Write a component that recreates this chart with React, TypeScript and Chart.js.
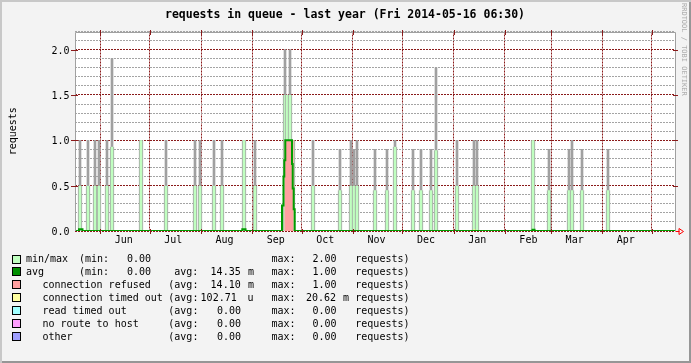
import React, { useEffect, useRef } from 'react';
import { Chart, registerables } from 'chart.js';

Chart.register(...registerables);

// ---------- data ----------
const TITLE = 'requests in queue - last year (Fri 2014-05-16 06:30)';
const Y_TITLE = 'requests';
const WATERMARK = 'RRDTOOL / TOBI OETIKER';

// x axis: days since the start of the graph window
const X_MAX_DAYS = 363.3;
const MONTH_START_DAYS = [15.3, 45.3, 76.3, 107.3, 137.3, 168.3, 198.3, 229.3, 260.3, 288.3, 319.3, 349.3];
const MONTH_LABELS = ['Jun', 'Jul', 'Aug', 'Sep', 'Oct', 'Nov', 'Dec', 'Jan', 'Feb', 'Mar', 'Apr', ''];

const Y_MAX = 2.2;
const Y_MINOR_STEP = 0.1;
const Y_MAJOR_VALUES = [0, 0.5, 1.0, 1.5, 2.0];
const Y_MAJOR_LABELS = ['0.0', '0.5', '1.0', '1.5', '2.0'];

// spikes: day, max value, top of the light green min/max band
const SPIKE_DAYS = [
  3.33, 8.17, 11.99, 14.65, 19.38, 22.4, 40.08, 55.1, 72.36, 75.99, 83.98, 88.71, 102.45, 109.11,
  127.04, 128.55, 130.06, 131.7, 144.29, 160.34, 167.0, 168.82, 170.75, 181.53, 188.62, 193.76,
  204.48, 209.39, 215.38, 218.59, 231.49, 241.78, 243.23, 277.51, 287.19, 298.94, 301.12, 306.81, 322.92,
];
const SPIKE_MAX = [
  1.0, 1.0, 1.0, 1.0, 1.0, 1.9, 1.0, 1.0, 1.0, 1.0, 1.0, 1.0, 1.0, 1.0,
  2.0, 1.5, 2.0, 1.0, 1.0, 0.9, 1.0, 0.9, 1.0, 0.9, 0.9, 1.0,
  0.9, 0.9, 0.9, 1.8, 1.0, 1.0, 1.0, 1.0, 0.9, 0.9, 1.0, 0.9, 0.9,
];
const SPIKE_BAND = [
  0.5, 0.5, 0.5, 0.5, 0.5, 0.93, 1.0, 0.5, 0.5, 0.5, 0.5, 0.5, 1.0, 0.5,
  1.5, 1.5, 1.5, 1.0, 0.5, 0.45, 0.5, 0.5, 0.5, 0.45, 0.45, 0.93,
  0.45, 0.45, 0.45, 0.89, 0.5, 0.5, 0.5, 1.0, 0.45, 0.45, 0.45, 0.45, 0.45,
];

// avg (step line)
const AVG_DAYS = [0, 2.42, 4.54, 101.3, 103.24, 125.34, 126.25, 126.73, 127.34, 131.4, 131.82, 132.42, 133.03, 277.02, 278.24, 363.3];
const AVG_VALUES = [0, 0.02, 0, 0.02, 0, 0.28, 0.6, 0.78, 1.0, 0.74, 0.47, 0.24, 0, 0.015, 0, 0];

// connection refused / timed out (step areas)
const REFUSED_DAYS = [126.73, 132.49];
const REFUSED_VALUES = [1.0, 0];
const TIMEDOUT_DAYS = [241.18, 242.51];
const TIMEDOUT_VALUES = [0.0206, 0];

// legend
const LEGEND_NAMES = ['min/max', 'avg', 'connection refused', 'connection timed out', 'read timed out', 'no route to host', 'other'];
const LEGEND_COLORS = ['#c0ffc0', '#009000', '#ffa0a0', '#ffffa0', '#a0ffff', '#ffa0ff', '#a0a0ff'];
const LEGEND_MIN = ['0.00', '0.00', null, null, null, null, null];
const LEGEND_AVG = [null, '14.35', '14.10', '102.71', '0.00', '0.00', '0.00'];
const LEGEND_AVG_UNIT = [null, 'm', 'm', 'u', '', '', ''];
const LEGEND_MAX = ['2.00', '1.00', '1.00', '20.62', '0.00', '0.00', '0.00'];
const LEGEND_MAX_UNIT = ['', '', '', 'm', '', '', ''];
const LEGEND_UNIT = 'requests)';

// ---------- styles ----------
const FONT = "'DejaVu Sans Mono', monospace";
const GREY = '#a0a0a0';
const GRID = '#a4a4a4';
const MGRID = '#8a1a1a';
const LIGHT_GREEN = '#c0ffc0';
const DARK_GREEN = '#009c00';
const PINK = '#ffa0a0';
const YELLOW = '#ffff80';

const toXY = (xs: number[], ys: number[]) => xs.map((x, i) => ({ x, y: ys[i] }));
const isMajor = (v: number | undefined) =>
  v !== undefined && Y_MAJOR_VALUES.some((m) => Math.abs(m - v) < 1e-6);

const decorPlugin = {
  id: 'rrdDecor',
  beforeDraw(chart: any) {
    const { ctx, chartArea } = chart;
    const { left, top, right, bottom } = chartArea;
    ctx.save();
    ctx.fillStyle = '#ffffff';
    ctx.fillRect(Math.round(left), Math.round(top), Math.round(right - left), Math.round(bottom - top));
    ctx.restore();
  },
  beforeDatasetsDraw(chart: any) {
    // snap bar centres to whole pixels so the thin bars render crisply
    chart.data.datasets.forEach((ds: any, i: number) => {
      if (ds.type !== 'bar') return;
      chart.getDatasetMeta(i).data.forEach((el: any) => {
        el.x = Math.round(el.x);
      });
    });
  },
  afterDatasetsDraw(chart: any) {
    const { ctx, chartArea, scales } = chart;
    const L = Math.round(chartArea.left) + 0.5;
    const R = Math.round(chartArea.right) + 0.5;
    const T = Math.round(chartArea.top) + 0.5;
    const B = Math.round(chartArea.bottom);
    ctx.save();
    // frame
    ctx.strokeStyle = GREY;
    ctx.lineWidth = 1;
    ctx.beginPath();
    ctx.moveTo(L, B);
    ctx.lineTo(L, T);
    ctx.lineTo(R, T);
    ctx.lineTo(R, B);
    ctx.stroke();
    // major tick marks
    ctx.strokeStyle = MGRID;
    ctx.beginPath();
    MONTH_START_DAYS.forEach((d) => {
      const x = Math.round(scales.x.getPixelForValue(d)) + 0.5;
      ctx.moveTo(x, T - 2.5);
      ctx.lineTo(x, T + 2.5);
      ctx.moveTo(x, B - 2);
      ctx.lineTo(x, B + 3);
    });
    Y_MAJOR_VALUES.forEach((v) => {
      if (v === 0) return;
      const y = Math.round(scales.y.getPixelForValue(v)) + 0.5;
      ctx.moveTo(L - 4.5, y);
      ctx.lineTo(L + 2.5, y);
      ctx.moveTo(R - 2.5, y);
      ctx.lineTo(R + 2.5, y);
    });
    ctx.stroke();
    // arrow at the end of the x axis
    ctx.strokeStyle = '#ff0000';
    ctx.beginPath();
    ctx.moveTo(R, B + 0.5);
    ctx.lineTo(R + 4, B + 0.5);
    ctx.moveTo(R + 3.5, B - 2.5);
    ctx.lineTo(R + 8, B + 0.5);
    ctx.lineTo(R + 3.5, B + 3.5);
    ctx.closePath();
    ctx.stroke();
    ctx.restore();
  },
};

function RrdChart() {
  const ref = useRef<HTMLCanvasElement | null>(null);
  useEffect(() => {
    if (!ref.current) return;
    const chart = new Chart(ref.current, {
      type: 'bar',
      data: {
        datasets: [
          {
            type: 'bar',
            label: 'max',
            data: toXY(SPIKE_DAYS, SPIKE_MAX),
            backgroundColor: GREY,
            borderWidth: 0,
            barThickness: 2,
            grouped: false,
            order: 5,
          } as any,
          {
            type: 'bar',
            label: 'min/max',
            data: toXY(SPIKE_DAYS, SPIKE_BAND),
            backgroundColor: LIGHT_GREEN,
            borderColor: GREY,
            borderWidth: { left: 1, right: 1, top: 0, bottom: 0 },
            barThickness: 4,
            grouped: false,
            order: 4,
          } as any,
          {
            type: 'line',
            label: 'connection refused',
            data: toXY(REFUSED_DAYS, REFUSED_VALUES),
            stepped: true,
            fill: 'origin',
            backgroundColor: PINK,
            borderColor: 'rgba(0,0,0,0)',
            borderWidth: 0,
            pointRadius: 0,
            order: 3,
          } as any,
          {
            type: 'line',
            label: 'connection timed out',
            data: toXY(TIMEDOUT_DAYS, TIMEDOUT_VALUES),
            stepped: true,
            fill: 'origin',
            backgroundColor: YELLOW,
            borderColor: 'rgba(0,0,0,0)',
            borderWidth: 0,
            pointRadius: 0,
            order: 2,
          } as any,
          {
            type: 'line',
            label: 'avg',
            data: toXY(AVG_DAYS, AVG_VALUES),
            stepped: true,
            fill: false,
            borderColor: DARK_GREEN,
            borderWidth: 2,
            pointRadius: 0,
            order: 1,
          } as any,
        ],
      },
      options: {
        animation: false,
        responsive: false,
        devicePixelRatio: 1,
        events: [],
        layout: { padding: { left: 0, top: 31.5, right: 16, bottom: 100 } },
        plugins: { legend: { display: false }, tooltip: { enabled: false }, title: { display: false } },
        scales: {
          x: {
            type: 'linear',
            min: 0,
            max: X_MAX_DAYS,
            offset: false,
            afterBuildTicks: (axis: any) => {
              axis.ticks = MONTH_START_DAYS.map((v) => ({ value: v }));
            },
            afterFit: (axis: any) => {
              axis.height = 32;
            },
            grid: { color: MGRID, lineWidth: 1, drawTicks: false, offset: false },
            border: { display: false, dash: [2, 1] },
            ticks: {
              autoSkip: false,
              maxRotation: 0,
              minRotation: 0,
              padding: 3,
              labelOffset: 23.5,
              color: '#000',
              font: { family: FONT, size: 10 },
              callback: (_v: any, i: number) => MONTH_LABELS[i] ?? '',
            },
          },
          y: {
            type: 'linear',
            min: 0,
            max: Y_MAX,
            afterBuildTicks: (axis: any) => {
              const t: { value: number }[] = [];
              const n = Math.round(Y_MAX / Y_MINOR_STEP);
              for (let i = 0; i <= n; i++) t.push({ value: +(i * Y_MINOR_STEP).toFixed(1) });
              axis.ticks = t;
            },
            afterFit: (axis: any) => {
              axis.width = 75;
            },
            grid: {
              color: (c: any) => (isMajor(c.tick?.value) ? MGRID : GRID),
              lineWidth: 1,
              drawTicks: false,
            },
            border: { display: false, dash: [2, 1] },
            ticks: {
              autoSkip: false,
              padding: 5.5,
              labelOffset: 1.5,
              color: '#000',
              font: { family: FONT, size: 10 },
              callback: (v: any) => {
                const k = Y_MAJOR_VALUES.findIndex((m) => Math.abs(m - Number(v)) < 1e-6);
                return k >= 0 ? Y_MAJOR_LABELS[k] : '';
              },
            },
            title: {
              display: true,
              text: Y_TITLE,
              color: '#000',
              font: { family: FONT, size: 10 },
              padding: { top: 7, bottom: 0 },
            },
          },
        },
      } as any,
      plugins: [decorPlugin],
    });
    return () => chart.destroy();
  }, []);
  return (
    <canvas
      ref={ref}
      width={691}
      height={363}
      style={{ position: 'absolute', left: 0, top: 0, width: 691, height: 363 }}
    />
  );
}

const AVG_X = [null, 210.6, 210.6, 200.6, 216.9, 216.9, 216.9];
const MAX_X = [312.5, 312.5, 312.5, 305.9, 312.5, 312.5, 312.5];

function LegendRow({ i }: { i: number }) {
  const top = 252.3 + 12.97 * i;
  const segs: [string, number][] = [];
  segs.push([LEGEND_NAMES[i], i < 2 ? 26 : 42.4]);
  if (LEGEND_MIN[i] !== null) {
    segs.push(['(min:', 79]);
    segs.push([LEGEND_MIN[i] as string, 126.9]);
  }
  if (LEGEND_AVG[i] !== null) {
    segs.push([i === 1 ? 'avg:' : '(avg:', i === 1 ? 174.2 : 168.3]);
    segs.push([LEGEND_AVG[i] as string, AVG_X[i] as number]);
    if (LEGEND_AVG_UNIT[i]) segs.push([LEGEND_AVG_UNIT[i] as string, i === 3 ? 247.4 : 248]);
  }
  segs.push(['max:', 271.4]);
  segs.push([LEGEND_MAX[i], MAX_X[i]]);
  if (LEGEND_MAX_UNIT[i]) segs.push([LEGEND_MAX_UNIT[i], 343]);
  segs.push([LEGEND_UNIT, 355.3]);
  return (
    <>
      <div
        style={{
          position: 'absolute',
          left: 12,
          top: 254.5 + 12.97 * i,
          width: 7,
          height: 7,
          background: LEGEND_COLORS[i],
          border: '1px solid #000',
        }}
      />
      {segs.map(([t, x], k) => (
        <span
          key={k}
          style={{
            position: 'absolute',
            left: x,
            top,
            fontFamily: FONT,
            fontSize: 10,
            lineHeight: '13px',
            whiteSpace: 'pre',
            color: '#000',
          }}
        >
          {t}
        </span>
      ))}
    </>
  );
}

export default function App() {
  return (
    <div
      style={{
        position: 'absolute',
        left: 0,
        top: 0,
        width: 691,
        height: 363,
        background: '#f3f3f3',
        boxShadow: 'inset 2px 2px 0 #c8c8c8, inset -2px -2px 0 #969696',
        overflow: 'hidden',
      }}
    >
      <RrdChart />
      <div
        style={{
          position: 'absolute',
          left: 0,
          top: 7.3,
          width: 690,
          textAlign: 'center',
          fontFamily: FONT,
          fontSize: 11.5,
          fontWeight: 'bold',
          lineHeight: '14px',
          color: '#000',
          whiteSpace: 'pre',
        }}
      >
        {TITLE}
      </div>
      <div
        style={{
          position: 'absolute',
          left: 688,
          top: 3,
          transform: 'rotate(90deg)',
          transformOrigin: 'left top',
          fontFamily: FONT,
          fontSize: 7,
          lineHeight: '8px',
          color: '#aaaaaa',
          whiteSpace: 'pre',
        }}
      >
        {WATERMARK}
      </div>
      {LEGEND_NAMES.map((_, i) => (
        <LegendRow key={i} i={i} />
      ))}
    </div>
  );
}
